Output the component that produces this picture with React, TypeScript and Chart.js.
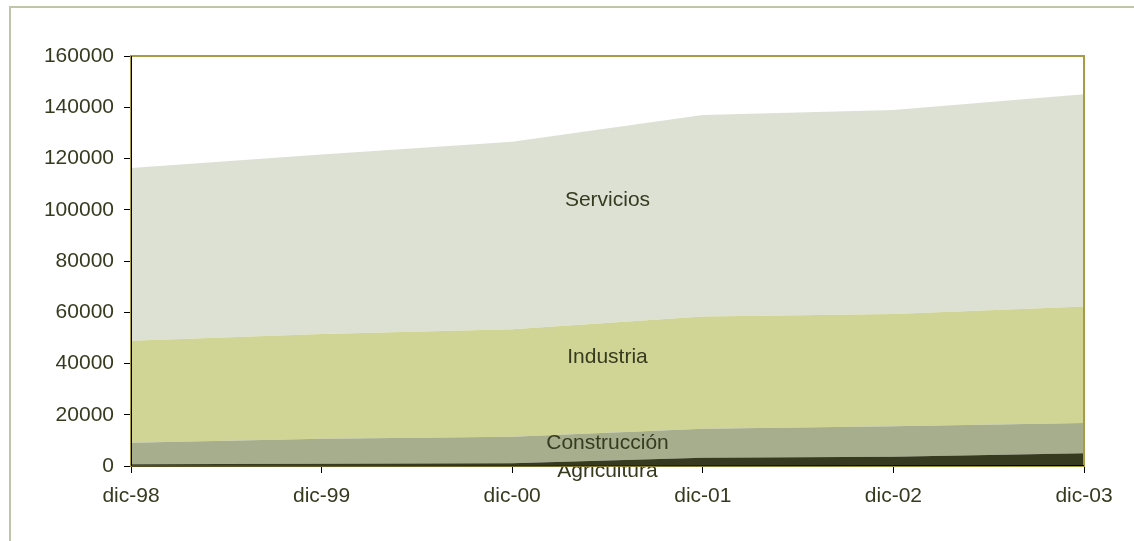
import React, { useEffect, useRef } from "react";
import { Chart, registerables } from "chart.js";

Chart.register(...registerables);

const categories = ["dic-98", "dic-99", "dic-00", "dic-01", "dic-02", "dic-03"];
const agricultura = [700, 900, 1050, 3250, 3630, 4950];
const construccion = [8400, 9750, 10390, 11320, 11860, 11830];
const industria = [39800, 40850, 41910, 43730, 43810, 45420];
const servicios = [67400, 70060, 73210, 78675, 79630, 82850];

const yMin = 0;
const yMax = 160000;
const yStep = 20000;

const areaLabels = ["Servicios", "Industria", "Construcción", "Agricultura"];
const areaLabelValues = [103800, 42540, 8975, -1950];
const areaLabelX = 2.5;

const FONT = '"Liberation Sans", Arial, sans-serif';
const TEXT = "#363b20";

export default function App() {
  const ref = useRef<HTMLCanvasElement | null>(null);

  useEffect(() => {
    if (!ref.current) return;

    const drawLabels = (chart: any, behind: boolean) => {
      const { ctx, chartArea } = chart;
      const xs = chart.scales.x;
      const ys = chart.scales.y;
      ctx.save();
      ctx.font = `21px ${FONT}`;
      ctx.fillStyle = TEXT;
      ctx.textAlign = "center";
      ctx.textBaseline = "middle";
      areaLabels.forEach((t, i) => {
        const x = xs.getPixelForValue(areaLabelX);
        const y = ys.getPixelForValue(areaLabelValues[i]);
        const outside = y > chartArea.bottom;
        if (outside === behind) ctx.fillText(t, x, y);
      });
      ctx.restore();
    };

    const plugin = {
      id: "frameAndLabels",
      beforeDatasetsDraw(chart: any) {
        drawLabels(chart, true);
      },
      afterDatasetsDraw(chart: any) {
        const { ctx, chartArea } = chart;
        drawLabels(chart, false);
        ctx.save();
        ctx.strokeStyle = "#a89b45";
        ctx.lineWidth = 2;
        ctx.strokeRect(chartArea.left, chartArea.top, chartArea.right - chartArea.left, chartArea.bottom - chartArea.top);
        ctx.strokeStyle = "#000";
        ctx.lineWidth = 1;
        ctx.beginPath();
        ctx.moveTo(chartArea.left + 0.5, chartArea.top);
        ctx.lineTo(chartArea.left + 0.5, chartArea.bottom);
        ctx.lineTo(chartArea.right, chartArea.bottom - 0.5);
        ctx.stroke();
        ctx.restore();
      },
    };

    const ds = (label: string, data: number[], color: string, fill: any) => ({
      label,
      data,
      backgroundColor: color,
      borderColor: color,
      borderWidth: 0,
      pointRadius: 0,
      tension: 0,
      fill,
    });

    const chart = new Chart(ref.current, {
      type: "line",
      data: {
        labels: categories,
        datasets: [
          ds("Agricultura", agricultura, "#363a1e", "origin"),
          ds("Construcción", construccion, "#a6ae8d", "-1"),
          ds("Industria", industria, "#d0d595", "-1"),
          ds("Servicios", servicios, "#dce1d3", "-1"),
        ],
      },
      options: {
        animation: false,
        responsive: true,
        maintainAspectRatio: false,
        layout: { padding: { left: 0, top: 56, right: 50, bottom: 0 } },
        plugins: {
          legend: { display: false },
          tooltip: { enabled: false },
        },
        scales: {
          x: {
            type: "category",
            offset: false,
            grid: {
              drawOnChartArea: false,
              drawTicks: true,
              tickLength: 7,
              color: "#000",
            },
            border: { display: true, color: "#000" },
            ticks: {
              font: { family: FONT, size: 21 },
              color: TEXT,
              padding: 11,
              maxRotation: 0,
              autoSkip: false,
            },
            afterFit: (s: any) => {
              s.height = 75;
            },
          },
          y: {
            stacked: true,
            min: yMin,
            max: yMax,
            grid: {
              drawOnChartArea: false,
              drawTicks: true,
              tickLength: 7,
              color: "#000",
            },
            border: { display: true, color: "#000" },
            ticks: {
              stepSize: yStep,
              font: { family: FONT, size: 21 },
              color: TEXT,
              padding: 10,
              callback: (v: any) => String(v),
            },
            afterFit: (s: any) => {
              s.width = 131;
            },
          },
        },
      },
      plugins: [plugin],
    });
    return () => chart.destroy();
  }, []);

  return (
    <div
      style={{
        position: "fixed",
        left: 0,
        top: 0,
        width: 1134,
        height: 541,
        background: "#fff",
        overflow: "hidden",
      }}
    >
      <div
        style={{
          position: "absolute",
          left: 9,
          top: 6,
          width: 1200,
          height: 600,
          borderTop: "2px solid #c0c4a9",
          borderLeft: "2px solid #c0c4a9",
        }}
      />
      <div style={{ position: "absolute", left: 0, top: 0, width: 1134, height: 541 }}>
        <canvas ref={ref} />
      </div>
    </div>
  );
}
